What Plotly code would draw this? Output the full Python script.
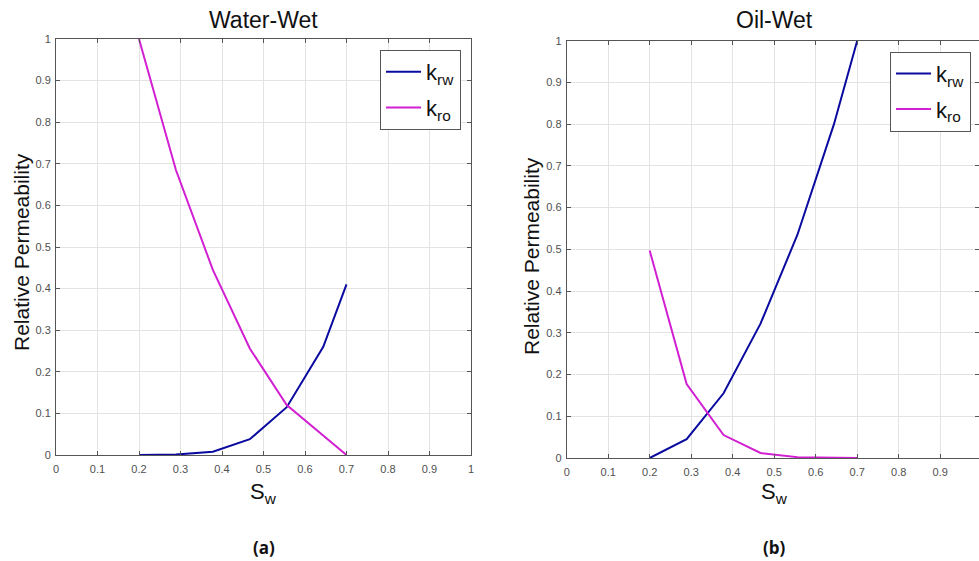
import plotly.graph_objects as go

sw = [0.2, 0.289, 0.378, 0.467, 0.556, 0.644, 0.7]
ww_krw = [0.0, 0.001, 0.008, 0.038, 0.115, 0.26, 0.41]
ww_kro = [1.0, 0.685, 0.445, 0.256, 0.12, 0.048, 0.0]
ow_krw = [0.0, 0.045, 0.155, 0.322, 0.535, 0.80, 1.0]
ow_kro = [0.497, 0.177, 0.055, 0.012, 0.002, 0.0, 0.0]

panel_titles = ["Water-Wet", "Oil-Wet"]
panel_labels = ["(a)", "(b)"]
tick_vals = [0, 0.1, 0.2, 0.3, 0.4, 0.5, 0.6, 0.7, 0.8, 0.9, 1]
tick_text = ["0", "0.1", "0.2", "0.3", "0.4", "0.5", "0.6", "0.7", "0.8", "0.9", "1"]

BLUE = "#0a0aa0"
MAG = "#d21fd2"
W, H = 979, 561

fig = go.Figure()
fig.add_trace(go.Scatter(x=sw, y=ww_krw, mode="lines", name="k<sub>rw</sub>", legendgroup="a1",
                         line=dict(color=BLUE, width=2), xaxis="x", yaxis="y", legend="legend"))
fig.add_trace(go.Scatter(x=sw, y=ww_kro, mode="lines", name="k<sub>ro</sub>", legendgroup="a2",
                         line=dict(color=MAG, width=2), xaxis="x", yaxis="y", legend="legend"))
fig.add_trace(go.Scatter(x=sw, y=ow_krw, mode="lines", name="k<sub>rw</sub>", legendgroup="b1",
                         line=dict(color=BLUE, width=2), xaxis="x2", yaxis="y2", legend="legend2"))
fig.add_trace(go.Scatter(x=sw, y=ow_kro, mode="lines", name="k<sub>ro</sub>", legendgroup="b2",
                         line=dict(color=MAG, width=2), xaxis="x2", yaxis="y2", legend="legend2"))

axis_common = dict(
    showgrid=True, gridcolor="#e3e3e3", gridwidth=1,
    showline=True, linecolor="#555555", linewidth=1, mirror="allticks",
    ticks="inside", ticklen=4, tickcolor="#555555",
    tickvals=tick_vals, ticktext=tick_text,
    tickfont=dict(family="Liberation Sans, Arial", size=11, color="#505050"),
    zeroline=False, automargin=False,
)

# pixel geometry
lx0, lx1 = 56, 471
rx0 = 566.7
r_scale = 415.0
ly_bot, ly_top = 455, 39
ry_bot, ry_top = 458, 40.7

legend_common = dict(xanchor="right", yanchor="top",
                     bgcolor="white", bordercolor="#555555", borderwidth=1,
                     font=dict(size=22, family="Liberation Sans, Arial", color="#111111"),
                     tracegroupgap=4, itemwidth=35)

fig.update_layout(
    template="none",
    width=W, height=H,
    margin=dict(l=0, r=0, t=0, b=0, autoexpand=False),
    paper_bgcolor="white", plot_bgcolor="white",
    font=dict(family="Liberation Sans, Arial", color="#111111"),
    xaxis=dict(domain=[lx0 / W, lx1 / W], range=[0, 1], anchor="y",
               ticklabelstandoff=4, **axis_common),
    yaxis=dict(domain=[1 - ly_bot / H, 1 - ly_top / H], range=[0, 1], anchor="x",
               ticklabelstandoff=2, **axis_common),
    xaxis2=dict(domain=[rx0 / W, 1.0], range=[0, (W - rx0) / r_scale], anchor="y2",
                ticklabelstandoff=4, **axis_common),
    yaxis2=dict(domain=[1 - ry_bot / H, 1 - ry_top / H], range=[0, 1], anchor="x2",
                ticklabelstandoff=2, **axis_common),
    legend=dict(x=461 / W, y=1 - 50 / H, **legend_common),
    legend2=dict(x=971 / W, y=1 - 51.7 / H, **legend_common),
    showlegend=True,
)

centers = [(lx0 + lx1) / 2, rx0 + r_scale / 2]
ylab_x = [21, 532]
mid_y = [252, 256]
for i in range(2):
    cx = centers[i]
    fig.add_annotation(x=cx / W, y=1 - 20 / H, xref="paper", yref="paper",
                       xanchor="center", yanchor="middle",
                       text=panel_titles[i], showarrow=False,
                       font=dict(size=23, family="Liberation Sans, Arial", color="#111111"))
    fig.add_annotation(x=cx / W, y=1 - 493 / H, xref="paper", yref="paper",
                       xanchor="center", yanchor="middle",
                       text="S<sub>w</sub>", showarrow=False,
                       font=dict(size=22, family="Liberation Sans, Arial", color="#111111"))
    fig.add_annotation(x=ylab_x[i] / W, y=1 - mid_y[i] / H, xref="paper", yref="paper",
                       xanchor="center", yanchor="middle",
                       text="Relative Permeability", textangle=-90, showarrow=False,
                       font=dict(size=21, family="Liberation Sans, Arial", color="#111111"))
    fig.add_annotation(x=cx / W, y=1 - 547 / H, xref="paper", yref="paper",
                       xanchor="center", yanchor="middle",
                       text="<b>" + panel_labels[i] + "</b>", showarrow=False,
                       font=dict(size=17, family="Open Sans, Liberation Sans", color="#111111"))

fig.write_html("out.html")
